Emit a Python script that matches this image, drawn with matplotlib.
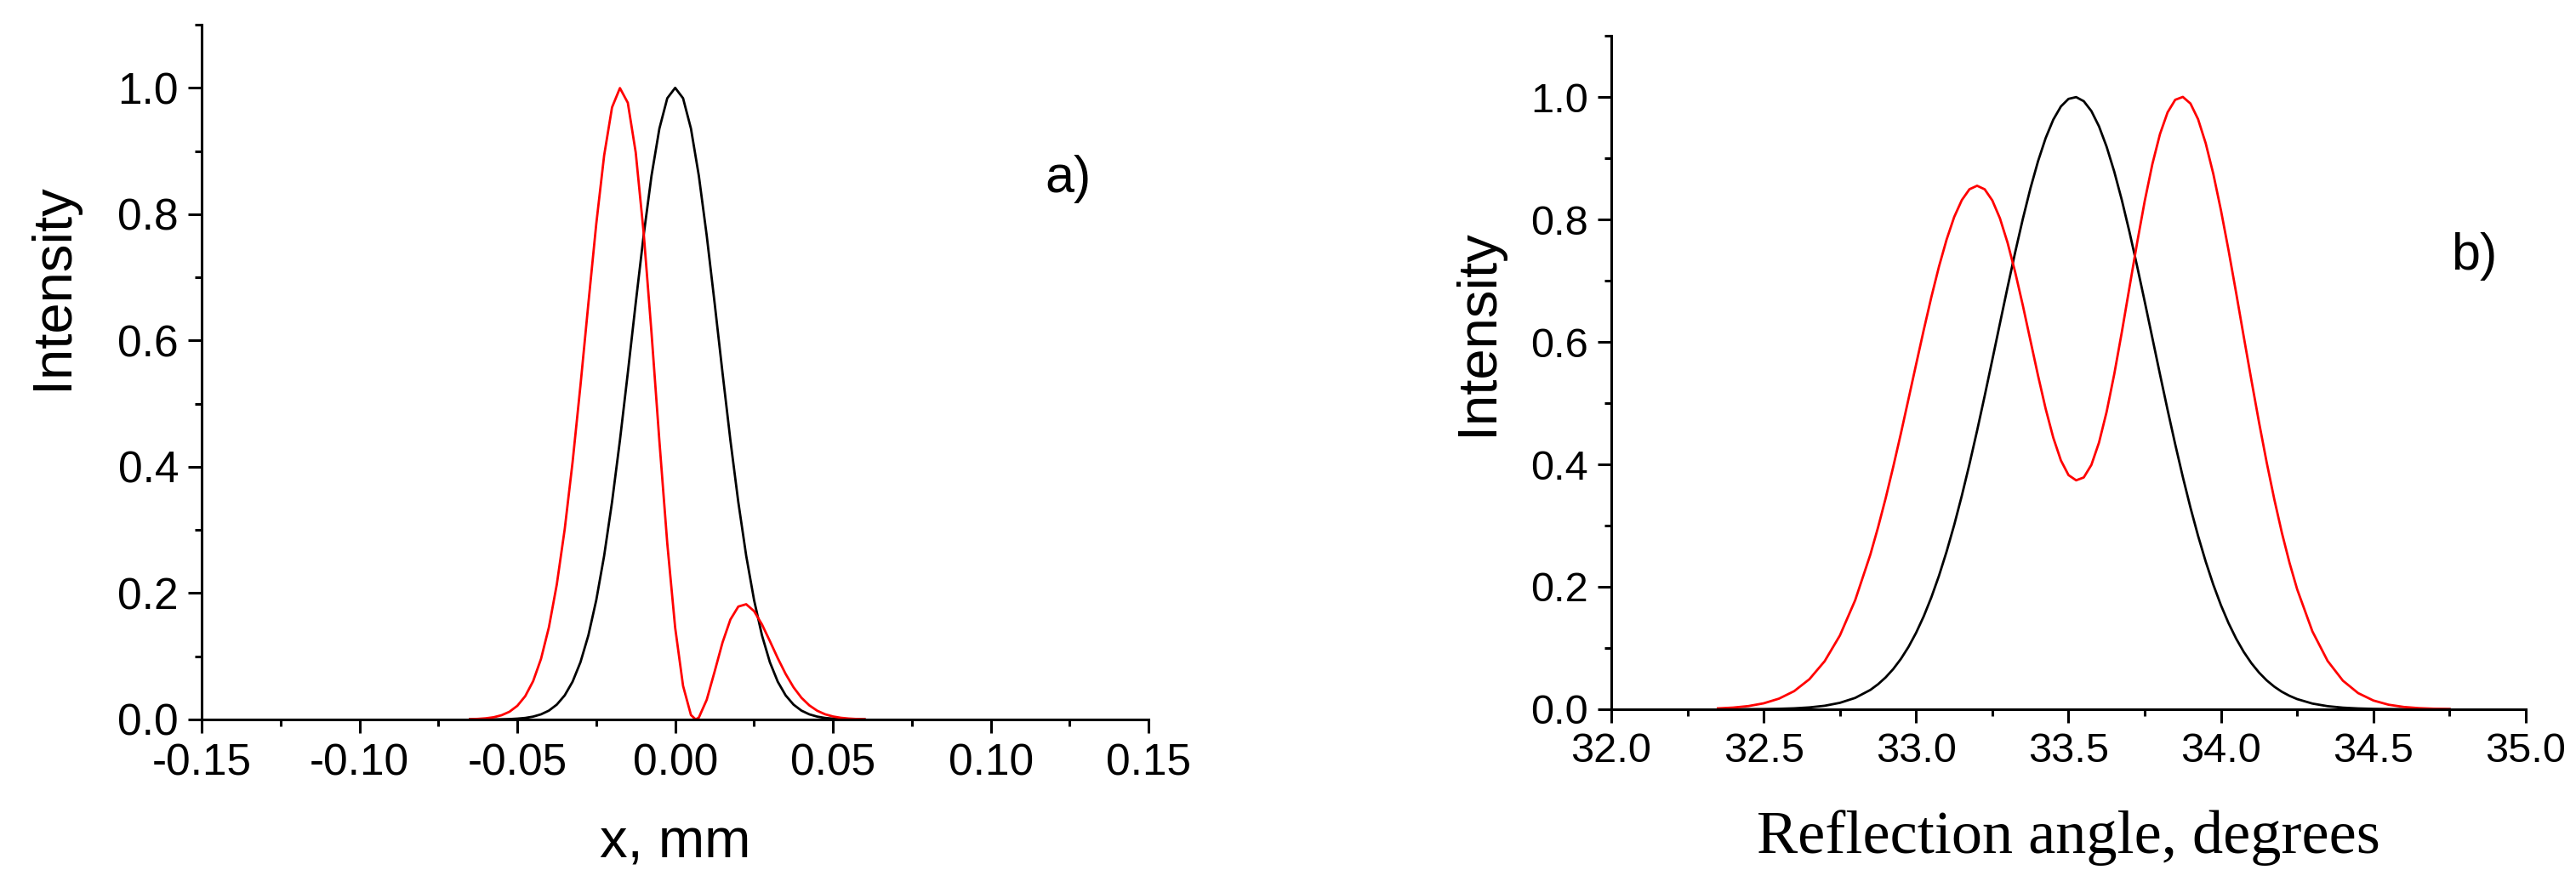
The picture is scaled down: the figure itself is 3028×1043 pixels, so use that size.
import matplotlib
matplotlib.use("Agg")
import matplotlib.pyplot as plt
from matplotlib.ticker import MultipleLocator
import numpy as np

plt.rcParams['font.family'] = ['Liberation Sans', 'DejaVu Sans']

# panel a): beam profile across x, mm
x_black_a = [-0.065, -0.0625, -0.06, -0.0575, -0.055, -0.0525, -0.05, -0.0475, -0.045, -0.0425,
             -0.04, -0.0375, -0.035, -0.0325, -0.03, -0.0275, -0.025, -0.0225, -0.02, -0.0175,
             -0.015, -0.0125, -0.01, -0.0075, -0.005, -0.0025, 0.0, 0.0025, 0.005, 0.0075,
             0.01, 0.0125, 0.015, 0.0175, 0.02, 0.0225, 0.025, 0.0275, 0.03, 0.0325,
             0.035, 0.0375, 0.04, 0.0425, 0.045, 0.0475, 0.05, 0.0525, 0.055, 0.0575, 0.06]
y_black_a = [0.0, 0.0, 0.0001, 0.0001, 0.0003, 0.0006, 0.0013, 0.0024, 0.0045, 0.0081,
             0.0140, 0.0235, 0.0381, 0.0598, 0.0907, 0.1331, 0.1889, 0.2592, 0.3442, 0.4419,
             0.5488, 0.6592, 0.7659, 0.8607, 0.9355, 0.9835, 1.0, 0.9835, 0.9355, 0.8607,
             0.7659, 0.6592, 0.5488, 0.4419, 0.3442, 0.2592, 0.1889, 0.1331, 0.0907, 0.0598,
             0.0381, 0.0235, 0.0140, 0.0081, 0.0045, 0.0024, 0.0013, 0.0006, 0.0003, 0.0001, 0.0001]

x_red_a = [-0.065, -0.0625, -0.06, -0.0575, -0.055, -0.0525, -0.05, -0.0475, -0.045, -0.0425,
           -0.04, -0.0375, -0.035, -0.0325, -0.03, -0.0275, -0.025, -0.0225, -0.02, -0.0175,
           -0.015, -0.0125, -0.01, -0.0075, -0.005, -0.0025, 0.0, 0.0025, 0.005, 0.0065,
           0.0075, 0.01, 0.0125, 0.015, 0.0175, 0.02, 0.0225, 0.025, 0.0275, 0.03,
           0.0325, 0.035, 0.0375, 0.04, 0.0425, 0.045, 0.0475, 0.05, 0.0525, 0.055,
           0.0575, 0.06]
y_red_a = [0.0004, 0.0009, 0.0018, 0.0035, 0.0067, 0.0122, 0.0216, 0.0369, 0.0606, 0.0959,
           0.1460, 0.2138, 0.3010, 0.4074, 0.5290, 0.6584, 0.7845, 0.8930, 0.9691, 0.9996,
           0.9763, 0.8977, 0.7715, 0.6124, 0.4408, 0.2787, 0.1452, 0.0532, 0.0070, 0.0,
           0.0030, 0.0312, 0.0758, 0.1218, 0.1582, 0.1787, 0.1824, 0.1715, 0.1504, 0.1241,
           0.0970, 0.0720, 0.0509, 0.0344, 0.0223, 0.0138, 0.0082, 0.0047, 0.0026, 0.0014,
           0.0007, 0.0003]

# panel b): angular spectrum, degrees
angle_b = [32.35, 32.40, 32.45, 32.50, 32.55, 32.60, 32.65, 32.70, 32.75, 32.80,
           32.85, 32.875, 32.90, 32.925, 32.95, 32.975, 33.00, 33.025, 33.05, 33.075,
           33.10, 33.125, 33.15, 33.175, 33.20, 33.225, 33.25, 33.275, 33.30, 33.325,
           33.35, 33.375, 33.40, 33.425, 33.45, 33.475, 33.50, 33.525, 33.55, 33.575,
           33.60, 33.625, 33.65, 33.675, 33.70, 33.725, 33.75, 33.775, 33.80, 33.825,
           33.85, 33.875, 33.90, 33.925, 33.95, 33.975, 34.00, 34.025, 34.05, 34.075,
           34.10, 34.125, 34.15, 34.175, 34.20, 34.225, 34.25, 34.30, 34.35, 34.40,
           34.45, 34.50, 34.55, 34.60, 34.65, 34.70, 34.75]
y_black_b = [0.0, 0.0001, 0.0001, 0.0003, 0.0007, 0.0015, 0.0030, 0.0057, 0.0105, 0.0185,
             0.0316, 0.0408, 0.0520, 0.0657, 0.0822, 0.1018, 0.1249, 0.1518, 0.1828, 0.2180,
             0.2575, 0.3011, 0.3489, 0.4003, 0.4549, 0.5120, 0.5708, 0.6302, 0.6892, 0.7464,
             0.8007, 0.8507, 0.8951, 0.9329, 0.9630, 0.9845, 0.9969, 0.9998, 0.9931, 0.9770,
             0.9520, 0.9187, 0.8781, 0.8313, 0.7794, 0.7237, 0.6657, 0.6064, 0.5471, 0.4889,
             0.4327, 0.3793, 0.3293, 0.2832, 0.2412, 0.2034, 0.1699, 0.1406, 0.1152, 0.0935,
             0.0752, 0.0599, 0.0472, 0.0369, 0.0285, 0.0219, 0.0166, 0.0093, 0.0050, 0.0026,
             0.0013, 0.0006, 0.0003, 0.0001, 0.0, 0.0, 0.0]
y_red_b = [0.0014, 0.0027, 0.0052, 0.0097, 0.0173, 0.0296, 0.0491, 0.0785, 0.1205, 0.1780,
           0.2528, 0.2968, 0.3445, 0.3961, 0.4503, 0.5067, 0.5633, 0.6194, 0.6732, 0.7230,
           0.7671, 0.8041, 0.8316, 0.8493, 0.8550, 0.8492, 0.8310, 0.8018, 0.7620, 0.7139,
           0.6598, 0.6023, 0.5449, 0.4907, 0.4435, 0.4064, 0.3824, 0.3739, 0.3786, 0.3991,
           0.4356, 0.4858, 0.5473, 0.6164, 0.6893, 0.7618, 0.8301, 0.8903, 0.9394, 0.9749,
           0.9954, 1.0001, 0.9893, 0.9637, 0.9244, 0.8743, 0.8150, 0.7495, 0.6797, 0.6080,
           0.5373, 0.4684, 0.4033, 0.3430, 0.2880, 0.2391, 0.1960, 0.1272, 0.0789, 0.0467,
           0.0264, 0.0143, 0.0074, 0.0037, 0.0018, 0.0008, 0.0003]

LINE_W = 2.0
SPINE_W = 2.2


def style_axes(ax, tick_size):
    ax.spines['top'].set_visible(False)
    ax.spines['right'].set_visible(False)
    ax.spines['left'].set_linewidth(SPINE_W)
    ax.spines['bottom'].set_linewidth(SPINE_W)
    ax.tick_params(which='major', direction='out', length=11.5, width=SPINE_W,
                   labelsize=tick_size, pad=8)
    ax.tick_params(which='minor', direction='out', length=6, width=SPINE_W)


fig = plt.figure(figsize=(30.28, 10.43), dpi=100)

ax1 = fig.add_axes([0.0783, 0.1889, 0.3676, 0.7833])
ax1.plot(x_black_a, y_black_a, color='black', lw=LINE_W)
ax1.plot(x_red_a, y_red_a, color='red', lw=LINE_W)
ax1.set_xlim(-0.15, 0.15)
ax1.set_ylim(0, 1.1)
ax1.xaxis.set_major_locator(MultipleLocator(0.05))
ax1.xaxis.set_minor_locator(MultipleLocator(0.025))
ax1.yaxis.set_major_locator(MultipleLocator(0.2))
ax1.yaxis.set_minor_locator(MultipleLocator(0.1))
ax1.xaxis.set_major_formatter(lambda v, p: f"{v:.2f}")
ax1.yaxis.set_major_formatter(lambda v, p: f"{v:.1f}")
style_axes(ax1, 37)
ax1.set_xlabel("x, mm", fontsize=47)
ax1.xaxis.set_label_coords(0.5, -0.141)
ax1.set_ylabel("Intensity", fontsize=47)
ax1.yaxis.set_label_coords(-0.130, 0.624)
ax1.text(0.1245, 0.856, "a)", fontsize=44, ha='center', va='center')

ax2 = fig.add_axes([0.6255, 0.2004, 0.355, 0.7593])
ax2.plot(angle_b, y_black_b, color='black', lw=LINE_W)
ax2.plot(angle_b, y_red_b, color='red', lw=LINE_W)
ax2.set_xlim(32.0, 35.0)
ax2.set_ylim(0, 1.1)
ax2.xaxis.set_major_locator(MultipleLocator(0.5))
ax2.xaxis.set_minor_locator(MultipleLocator(0.25))
ax2.yaxis.set_major_locator(MultipleLocator(0.2))
ax2.yaxis.set_minor_locator(MultipleLocator(0.1))
ax2.xaxis.set_major_formatter(lambda v, p: f"{v:.1f}")
ax2.yaxis.set_major_formatter(lambda v, p: f"{v:.1f}")
style_axes(ax2, 35)
ax2.set_xlabel("Reflection angle, degrees", fontsize=52, family='Liberation Serif')
ax2.xaxis.set_label_coords(0.5, -0.149)
ax2.set_ylabel("Intensity", fontsize=47)
ax2.yaxis.set_label_coords(-0.118, 0.56)
ax2.text(34.83, 0.74, "b)", fontsize=44, ha='center', va='center')

fig.savefig("out.png", dpi=100)
